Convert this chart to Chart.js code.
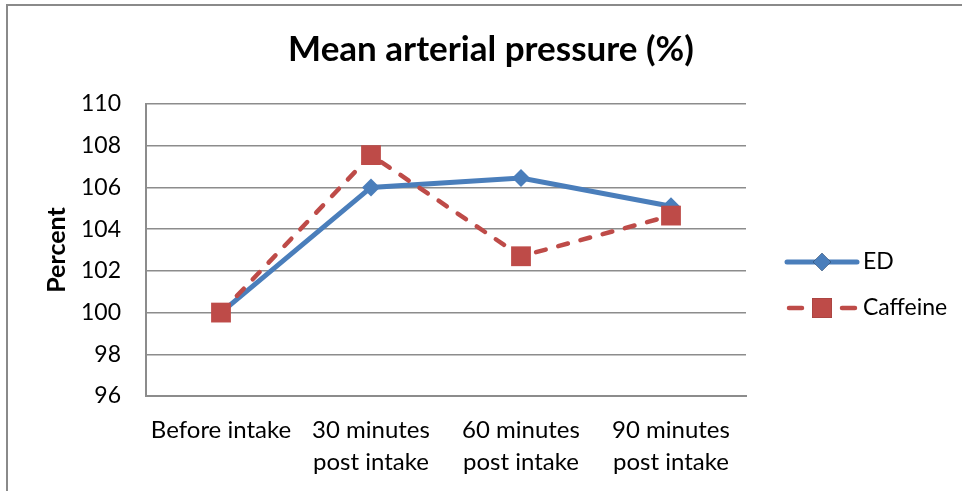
<!DOCTYPE html>
<html>
<head>
<meta charset="utf-8">
<script src="https://cdn.jsdelivr.net/npm/chart.js@4"></script>
<style>
  html, body { margin: 0; padding: 0; background: #fff; }
  #wrap { position: relative; width: 962px; height: 491px; }
</style>
</head>
<body>
<div id="wrap"><canvas id="mapChart" width="962" height="491"></canvas></div>
<script>
/* chart data */
const categories  = ['Before intake', ['30 minutes', 'post intake'], ['60 minutes', 'post intake'], ['90 minutes', 'post intake']];
const edValues    = [100, 106.0, 106.45, 105.1];
const caffValues  = [100, 107.55, 102.7, 104.65];
const seriesNames = ['ED', 'Caffeine'];
const yTicks      = [96, 98, 100, 102, 104, 106, 108, 110];
const titleText   = 'Mean arterial pressure (%)';

const C_BLUE = '#4a7ebb';
const C_RED  = '#be4b48';
const C_GRID = '#8c8c8c';
const FONT   = 'Lato, "Liberation Sans", sans-serif';

// gray frame (only left + top edges show) and the title, centred on the whole picture
const framePlugin = {
  id: 'frame',
  beforeDraw(chart) {
    const ctx = chart.ctx;
    ctx.save();
    ctx.strokeStyle = '#8a8a8a';
    ctx.lineWidth = 2;
    ctx.strokeRect(7, 5, 2000, 2000);
    ctx.fillStyle = '#000';
    ctx.font = 'bold 35px ' + FONT;
    ctx.textAlign = 'center';
    ctx.textBaseline = 'middle';
    ctx.fillText(titleText, 491, 50);
    ctx.restore();
  }
};

// legend with line + marker samples, on the right
const legendPlugin = {
  id: 'lineLegend',
  afterDraw(chart) {
    const ctx = chart.ctx;
    const x0 = 787, x1 = 857, rows = [262, 308];
    ctx.save();
    chart.data.datasets.forEach((ds, i) => {
      const y = rows[i];
      const mid = (x0 + x1) / 2;
      ctx.strokeStyle = ds.borderColor;
      ctx.lineWidth = ds.borderWidth;
      ctx.lineCap = 'round';
      ctx.beginPath();
      if (ds.borderDash) {
        // two short dashes either side of the marker
        ctx.moveTo(x0 + 2, y); ctx.lineTo(x0 + 15, y);
        ctx.moveTo(x1 - 15, y); ctx.lineTo(x1 - 2, y);
      } else {
        ctx.moveTo(x0, y); ctx.lineTo(x1, y);
      }
      ctx.stroke();
      Chart.helpers.drawPoint(ctx, { pointStyle: ds.pointStyle, radius: ds.pointRadius, borderWidth: 0 }, mid, y);
      ctx.fillStyle = ds.pointBackgroundColor;
      ctx.fill();
      ctx.fillStyle = '#000';
      ctx.font = '23px ' + FONT;
      ctx.textBaseline = 'middle';
      ctx.fillText(ds.label, 863, y);
    });
    ctx.restore();
  }
};

new Chart(document.getElementById('mapChart'), {
  type: 'line',
  data: {
    labels: categories,
    datasets: [
      { label: seriesNames[0], data: edValues, order: 1,
        borderColor: C_BLUE, borderWidth: 5, pointStyle: 'rectRot', pointRadius: 9,
        pointBackgroundColor: C_BLUE, pointBorderWidth: 0, tension: 0 },
      { label: seriesNames[1], data: caffValues, order: 0,
        borderColor: C_RED, borderWidth: 4.5, borderDash: [10, 13], borderCapStyle: 'round',
        pointStyle: 'rect', pointRadius: 14, pointBackgroundColor: C_RED, pointBorderWidth: 0, tension: 0 }
    ]
  },
  options: {
    responsive: false,
    animation: false,
    layout: { padding: { left: 0, right: 216, top: 104, bottom: 0 } },
    plugins: {
      legend: { display: false },
      tooltip: { enabled: false },
      title: { display: false }
    },
    scales: {
      x: {
        offset: true,
        grid: { display: false, drawTicks: false },
        border: { display: true, color: C_GRID, width: 2 },
        ticks: { color: '#000', font: { family: FONT, size: 24, lineHeight: 1.3 }, padding: 19, maxRotation: 0, autoSkip: false },
        afterFit(scale) { scale.height = 95; }
      },
      y: {
        min: 96, max: 110,
        afterBuildTicks(scale) { scale.ticks = yTicks.map(v => ({ value: v })); },
        grid: { color: C_GRID, lineWidth: 1.5, drawTicks: false },
        border: { display: true, color: C_GRID, width: 2 },
        ticks: { color: '#000', font: { family: FONT, size: 23 }, padding: 25 },
        title: {
          display: true, text: 'Percent', color: '#000',
          font: { family: FONT, size: 25, weight: 'bold' },
          padding: { top: 42, bottom: 0 }
        },
        afterFit(scale) { scale.width = 146; }
      }
    }
  },
  plugins: [framePlugin, legendPlugin]
});
</script>
</body>
</html>
